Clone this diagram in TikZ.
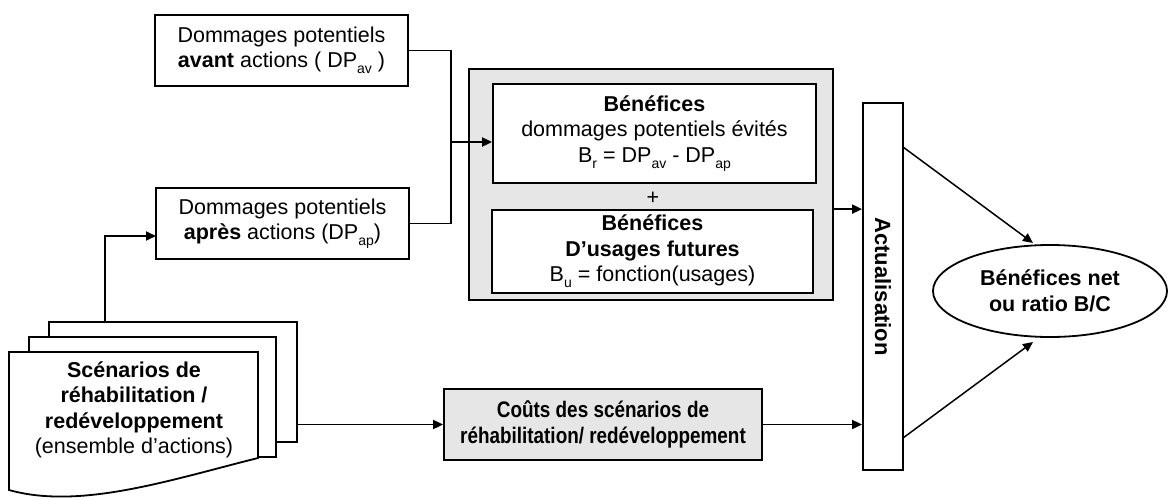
\documentclass[tikz,border=0pt]{standalone}
\usepackage{fontspec}
\setmainfont{Liberation Sans}
\newfontfamily\narrowfont[FakeStretch=0.84]{Liberation Sans}
\usetikzlibrary{arrows.meta,shapes.geometric,calc}
\newcommand{\lowsub}[1]{\raisebox{-0.28em}{\fontsize{14}{14}\selectfont #1}}
\definecolor{boxgrey}{RGB}{230,230,230}
\tikzset{
  txt/.style={font=\fontsize{21.5}{25.5}\selectfont, align=center},
  box/.style={draw, line width=1.8pt, fill=white, inner sep=0pt, txt},
  arr/.style={line width=1.8pt, -{Triangle[length=10pt,width=9pt]}},
  ln/.style={line width=1.8pt},
}
\begin{document}
\begin{tikzpicture}[x=1pt,y=-1pt]
\useasboundingbox (0,0) rectangle (1171,499);

% boxes on the left
\node[box, minimum width=253pt, minimum height=71pt] (avant) at (281.5,50.5)
  {Dommages potentiels\\ \textbf{avant} actions ( DP\lowsub{av} )};
\node[box, minimum width=253pt, minimum height=71pt] (apres) at (282.5,223.5)
  {Dommages potentiels\\ \textbf{après} actions (DP\lowsub{ap})};

% grey benefits block
\node[box, fill=boxgrey, minimum width=364pt, minimum height=231pt] (grey) at (651,184.5) {};
\node[box, minimum width=323pt, minimum height=99pt] (ben1) at (654.5,133.5)
  {\textbf{Bénéfices}\\ dommages potentiels évités\\ B\lowsub{r} = DP\lowsub{av} - DP\lowsub{ap}};
\node[txt] (plus) at (653,198) {+};
\node[box, minimum width=321pt, minimum height=83pt] (ben2) at (652.5,251.5)
  {\textbf{Bénéfices}\\ \textbf{D’usages futures}\\ B\lowsub{u} = fonction(usages)};

% costs
\node[box, fill=boxgrey, minimum width=318pt, minimum height=71pt, font=\narrowfont\fontsize{22.5}{26.5}\selectfont\bfseries] (cost) at (603,424.5)
  {Coûts des scénarios de\\ réhabilitation/ redéveloppement};

% actualisation
\node[box, minimum width=40pt, minimum height=367pt] (act) at (883,286.5) {};
\node[txt, rotate=-90, font=\fontsize{22}{26}\selectfont\bfseries] (acttext) at (act.center) {Actualisation};

% result
\node[box, ellipse, minimum width=234pt, minimum height=92pt, font=\fontsize{21.5}{25.5}\selectfont\bfseries] (res) at (1050,291)
  {Bénéfices net\\ ou ratio B/C};

% stacked scenario sheets
\node[draw, line width=1.8pt, fill=white, minimum width=248pt, minimum height=120pt, inner sep=0pt] (back) at (173,382) {};
\node[draw, line width=1.8pt, fill=white, minimum width=247pt, minimum height=120pt, inner sep=0pt] (mid) at (152.5,397) {};
\draw[ln, fill=white] (9,352) -- (258,352) -- (258,458) .. controls (170,480) and (80,510) .. (9,490) -- cycle;
\node[txt] (scen) at (134,410)
  {\textbf{Scénarios de}\\ \textbf{réhabilitation /}\\ \textbf{redéveloppement}\\ (ensemble d’actions)};

% connectors
\coordinate (junc) at (451,142);
\draw[ln] (avant.east) -| (junc);
\draw[ln] (apres.east) -| (junc);
\draw[arr] (junc) -- (ben1.west |- junc);
\coordinate (upstart) at (105,322);
\coordinate (apin) at (156,236);
\draw[arr] (upstart) |- (apin);
\draw[arr] (back.east |- cost.west) -- (cost.west);
\draw[arr] (grey.east |- ben2.north) -- (act.west |- ben2.north);
\draw[arr] (cost.east) -- (act.west |- cost.east);
\coordinate (a1) at (903,147);
\coordinate (a2) at (903,438);
\draw[arr, line width=1.5pt] (a1) -- (1033,243);
\draw[arr, line width=1.5pt] (a2) -- (1033,342);
\end{tikzpicture}
\end{document}
